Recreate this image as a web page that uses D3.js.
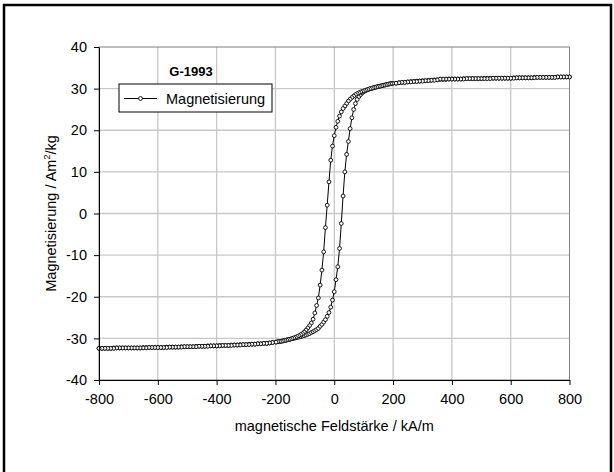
<!DOCTYPE html>
<html>
<head>
<meta charset="utf-8">
<script src="https://cdn.jsdelivr.net/npm/d3@7"></script>
<style>
  body { margin: 0; background: #fff; }
  svg { display: block; font-family: "Liberation Sans", Arial, sans-serif; }
  .axis text { font-size: 14.5px; fill: #000; }
  .axis path, .axis line { stroke: #000; }
</style>
</head>
<body>
<div id="chart"></div>
<script>
// x ticks (kA/m) and y ticks (Am²/kg)
const xTicks = [-800, -600, -400, -200, 0, 200, 400, 600, 800];
const yTicks = [-40, -30, -20, -10, 0, 10, 20, 30, 40];

// ascending branch: field values (kA/m)
const fieldUp = [
  -800,-790,-780,-770,-760,-750,-740,-730,-720,-710,
  -700,-690,-680,-670,-660,-650,-640,-630,-620,-610,
  -600,-590,-580,-570,-560,-550,-540,-530,-520,-510,
  -500,-490,-480,-470,-460,-450,-440,-430,-420,-410,
  -400,-390,-380,-370,-360,-350,-340,-330,-320,-310,
  -300,-290,-280,-270,-260,-250,-240,-230,-220,-210,
  -198,-192,-186,-180,-174,-168,-162,-156,-150,-144,-138,-132,-126,-120,-114,-108,-102,
  -96,-90,-84,-78,-72,-66,-60,-54,-48,-42,-36,-30,-24,-18,-12,-6,
  0,6,12,18,24,30,36,42,48,54,60,66,72,78,84,90,96,
  102,108,114,120,126,132,138,144,150,156,162,168,174,180,186,192,198,
  210,220,230,240,250,260,270,280,290,300,
  310,320,330,340,350,360,370,380,390,400,
  410,420,430,440,450,460,470,480,490,500,
  510,520,530,540,550,560,570,580,590,600,
  610,620,630,640,650,660,670,680,690,700,
  710,720,730,740,750,760,770,780,790,800
];

// ascending branch: magnetisation (Am²/kg)
const magUp = [
  -32.4,-32.4,-32.4,-32.4,-32.4,-32.3,-32.3,-32.3,-32.3,-32.3,
  -32.3,-32.3,-32.3,-32.3,-32.3,-32.2,-32.2,-32.2,-32.2,-32.2,
  -32.2,-32.2,-32.2,-32.1,-32.1,-32.1,-32.1,-32.1,-32.0,-32.0,
  -32.0,-32.0,-32.0,-31.9,-31.9,-31.9,-31.9,-31.8,-31.8,-31.8,
  -31.8,-31.7,-31.7,-31.7,-31.7,-31.6,-31.6,-31.6,-31.5,-31.5,
  -31.5,-31.4,-31.4,-31.4,-31.3,-31.3,-31.2,-31.2,-31.1,-31.0,
  -30.9,-30.8,-30.8,-30.7,-30.6,-30.5,-30.4,-30.3,-30.2,-30.1,-30.0,-29.9,-29.8,-29.7,-29.6,-29.45,-29.35,
  -29.2,-29.0,-28.85,-28.6,-28.4,-28.15,-27.9,-27.6,-27.1,-26.65,-26.1,-25.5,-24.7,-23.8,-22.5,-20.8,
  -18.8,-15.9,-12.8,-8.4,-2.4,4.2,10.0,14.2,17.3,20.4,23.0,25.0,26.4,27.4,28.1,28.6,29.0,
  29.3,29.55,29.75,29.9,30.0,30.15,30.3,30.4,30.5,30.6,30.7,30.8,30.9,31.0,31.1,31.2,31.25,
  31.3,31.4,31.5,31.5,31.6,31.7,31.7,31.8,31.8,31.9,
  31.9,32.0,32.0,32.1,32.1,32.2,32.2,32.2,32.3,32.3,
  32.3,32.3,32.3,32.4,32.4,32.4,32.4,32.4,32.4,32.4,
  32.5,32.5,32.5,32.5,32.5,32.5,32.5,32.5,32.5,32.5,
  32.6,32.6,32.6,32.6,32.6,32.6,32.6,32.7,32.7,32.7,
  32.7,32.7,32.7,32.7,32.7,32.8,32.8,32.8,32.8,32.8
];

// descending branch uses the same field grid, run backwards
const fieldDown = fieldUp.slice().reverse();

// descending branch: magnetisation (Am²/kg)
const magDown = [
  32.8,32.8,32.8,32.8,32.8,32.7,32.7,32.7,32.7,32.7,
  32.7,32.7,32.6,32.6,32.6,32.6,32.6,32.6,32.6,32.5,
  32.5,32.5,32.5,32.5,32.5,32.5,32.5,32.4,32.4,32.4,
  32.4,32.4,32.4,32.4,32.4,32.4,32.3,32.3,32.3,32.3,
  32.3,32.3,32.3,32.3,32.3,32.1,32.0,32.0,31.9,31.9,
  31.8,31.8,31.7,31.7,31.6,31.6,31.5,31.5,31.4,31.3,
  31.25,31.2,31.1,31.0,30.9,30.8,30.7,30.6,30.5,30.4,30.3,30.2,30.05,29.95,29.8,29.65,29.5,
  29.35,29.2,29.0,28.8,28.55,28.2,27.85,27.45,27.0,26.4,25.8,25.2,24.4,23.4,22.15,20.7,
  18.7,16.2,12.8,7.6,2.0,-3.4,-9.2,-13.6,-17.2,-20.3,-22.1,-23.9,-25.4,-26.3,-26.95,-27.5,-28.0,
  -28.5,-28.85,-29.1,-29.35,-29.55,-29.75,-29.9,-30.05,-30.2,-30.3,-30.4,-30.5,-30.6,-30.7,-30.75,-30.8,-30.9,
  -31.0,-31.1,-31.2,-31.2,-31.3,-31.3,-31.4,-31.4,-31.5,-31.5,
  -31.5,-31.6,-31.6,-31.6,-31.7,-31.7,-31.7,-31.7,-31.8,-31.8,
  -31.8,-31.8,-31.9,-31.9,-31.9,-31.9,-32.0,-32.0,-32.0,-32.0,
  -32.0,-32.1,-32.1,-32.1,-32.1,-32.1,-32.2,-32.2,-32.2,-32.2,
  -32.2,-32.2,-32.2,-32.3,-32.3,-32.3,-32.3,-32.3,-32.3,-32.3,
  -32.3,-32.3,-32.3,-32.3,-32.4,-32.4,-32.4,-32.4,-32.4,-32.4
];

const W = 614, H = 472;
const margin = { top: 47, left: 99 };
const width = 470.5, height = 333;

const svg = d3.select("#chart").append("svg")
  .attr("width", W).attr("height", H);

// outer frame (left, top, right)
svg.append("path")
  .attr("d", `M4,${H} L4,5 L611,5 L611,${H}`)
  .attr("fill", "none").attr("stroke", "#000").attr("stroke-width", 2.5);

const g = svg.append("g").attr("transform", `translate(${margin.left},${margin.top})`);

const x = d3.scaleLinear().domain([-800, 800]).range([0, width]);
const y = d3.scaleLinear().domain([-40, 40]).range([height, 0]);

// grid
g.selectAll(".vgrid").data(xTicks.slice(1, -1)).enter().append("line")
  .attr("x1", d => x(d)).attr("x2", d => x(d)).attr("y1", 0).attr("y2", height)
  .attr("stroke", "#c8c8c8").attr("stroke-width", 1.3);
g.selectAll(".hgrid").data(yTicks.slice(1, -1)).enter().append("line")
  .attr("x1", 0).attr("x2", width).attr("y1", d => y(d)).attr("y2", d => y(d))
  .attr("stroke", "#c8c8c8").attr("stroke-width", 1.3);

// plot border
g.append("rect").attr("width", width).attr("height", height)
  .attr("fill", "none").attr("stroke", "#808080").attr("stroke-width", 1);

// data
const up = fieldUp.map((h, i) => ({ h: h, m: magUp[i] }));
const down = fieldDown.map((h, i) => ({ h: h, m: magDown[i] }));
const loop = up.concat(down);

g.append("path")
  .datum(loop)
  .attr("fill", "none").attr("stroke", "#000").attr("stroke-width", 1)
  .attr("d", d3.line().x(d => x(d.h)).y(d => y(d.m)));

g.selectAll(".pt").data(loop).enter().append("circle")
  .attr("class", "pt")
  .attr("cx", d => x(d.h)).attr("cy", d => y(d.m)).attr("r", 1.9)
  .attr("fill", "#fff").attr("stroke", "#000").attr("stroke-width", 0.9);

// axes
g.append("g").attr("class", "axis")
  .attr("transform", `translate(0,${height})`)
  .call(d3.axisBottom(x).tickValues(xTicks).tickSize(5).tickSizeOuter(0).tickPadding(9).tickFormat(d => String(d)));
g.append("g").attr("class", "axis")
  .call(d3.axisLeft(y).tickValues(yTicks).tickSize(5).tickSizeOuter(0).tickPadding(7).tickFormat(d => String(d)));

// axis titles
svg.append("text")
  .attr("x", margin.left + width / 2).attr("y", 431)
  .attr("text-anchor", "middle").style("font-size", "14.5px")
  .text("magnetische Feldstärke / kA/m");

const yt = svg.append("text")
  .attr("transform", `translate(56,${margin.top + height / 2}) rotate(-90)`)
  .attr("text-anchor", "middle").style("font-size", "14.5px");
yt.append("tspan").text("Magnetisierung / Am");
yt.append("tspan").attr("dy", -6).style("font-size", "9px").text("2");
yt.append("tspan").attr("dy", 6).text("/kg");

// sample name
svg.append("text")
  .attr("x", 191).attr("y", 76)
  .attr("text-anchor", "middle").style("font-size", "13px").style("font-weight", "bold")
  .text("G-1993");

// legend
svg.append("rect").attr("x", 119).attr("y", 84).attr("width", 153).attr("height", 28)
  .attr("fill", "#fff").attr("stroke", "#000").attr("stroke-width", 1);
svg.append("line").attr("x1", 124).attr("x2", 157).attr("y1", 98.5).attr("y2", 98.5)
  .attr("stroke", "#000").attr("stroke-width", 1);
svg.append("circle").attr("cx", 140.5).attr("cy", 98.5).attr("r", 1.9)
  .attr("fill", "#fff").attr("stroke", "#000").attr("stroke-width", 0.9);
svg.append("text").attr("x", 166).attr("y", 103.5)
  .style("font-size", "14.5px").text("Magnetisierung");
</script>
</body>
</html>
